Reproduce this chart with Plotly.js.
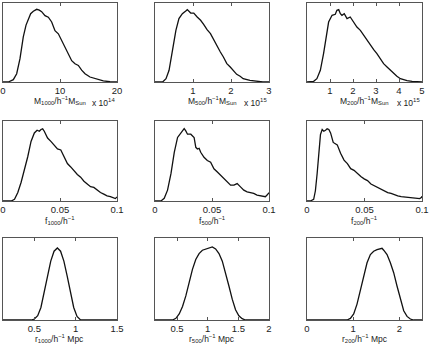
<!DOCTYPE html>
<html>
<head>
<meta charset="utf-8">
<script src="https://cdn.plot.ly/plotly-3.0.1.min.js"></script>
<style>
  html, body { margin: 0; padding: 0; background: #fff; }
  #chart { width: 432px; height: 349px; }
</style>
</head>
<body>
<div id="chart"></div>
<script>
// Normalised distributions (peak height relative to frame)

// Row 1: masses
const m1000X = [0, 0.94, 1.81, 2.40, 2.98, 3.56, 4.04, 4.45, 4.85, 5.32, 5.6, 5.91, 6.37, 6.78, 7.37, 7.95, 8.54, 9.12, 9.71, 10.29, 10.88, 11.46, 12.05, 12.63, 13.22, 13.80, 14.39, 15.26, 16.43, 17.6, 18.77, 19.65, 20];
const m1000Y = [0, 0, 0.03, 0.105, 0.295, 0.57, 0.72, 0.80, 0.865, 0.895, 0.91, 0.92, 0.91, 0.89, 0.84, 0.82, 0.76, 0.65, 0.61, 0.53, 0.44, 0.36, 0.27, 0.23, 0.21, 0.15, 0.105, 0.063, 0.034, 0.013, 0.004, 0, 0];

const m500X = [0, 0.20, 0.29, 0.37, 0.46, 0.55, 0.63, 0.72, 0.81, 0.85, 0.94, 1.02, 1.11, 1.20, 1.28, 1.37, 1.46, 1.54, 1.63, 1.72, 1.80, 1.89, 1.98, 2.06, 2.15, 2.24, 2.32, 2.50, 2.67, 2.84, 3.0];
const m500Y = [0, 0, 0.042, 0.148, 0.401, 0.654, 0.802, 0.865, 0.899, 0.916, 0.873, 0.873, 0.823, 0.781, 0.730, 0.662, 0.612, 0.536, 0.464, 0.380, 0.316, 0.232, 0.190, 0.148, 0.097, 0.072, 0.042, 0.021, 0.008, 0, 0];

const m200X = [0, 0.07, 0.29, 0.43, 0.58, 0.72, 0.84, 0.94, 1.09, 1.23, 1.30, 1.38, 1.45, 1.52, 1.62, 1.74, 1.88, 2.03, 2.17, 2.32, 2.46, 2.61, 2.75, 2.90, 3.04, 3.19, 3.33, 3.48, 3.62, 3.77, 3.91, 4.06, 4.20, 4.35, 4.57, 4.78, 5.0];
const m200Y = [0, 0, 0.008, 0.042, 0.148, 0.359, 0.612, 0.759, 0.844, 0.857, 0.907, 0.916, 0.865, 0.844, 0.865, 0.802, 0.823, 0.759, 0.696, 0.654, 0.591, 0.527, 0.464, 0.409, 0.359, 0.295, 0.232, 0.190, 0.148, 0.105, 0.072, 0.042, 0.030, 0.017, 0.008, 0.004, 0];

// Row 2: f parameters
const f1000X = [0, 0.0072, 0.0101, 0.0130, 0.0159, 0.0188, 0.0217, 0.0246, 0.0275, 0.0299, 0.0319, 0.0333, 0.0348, 0.0362, 0.0391, 0.0420, 0.0449, 0.0478, 0.0507, 0.0536, 0.0565, 0.0594, 0.0623, 0.0652, 0.0681, 0.0710, 0.0739, 0.0768, 0.0797, 0.0826, 0.0855, 0.0884, 0.0913, 0.0942, 0.0971, 0.0986, 0.1];
const f1000Y = [0, 0, 0.021, 0.106, 0.234, 0.383, 0.553, 0.745, 0.851, 0.885, 0.872, 0.894, 0.902, 0.872, 0.787, 0.745, 0.702, 0.651, 0.638, 0.553, 0.468, 0.426, 0.374, 0.332, 0.298, 0.247, 0.213, 0.179, 0.170, 0.136, 0.106, 0.085, 0.064, 0.055, 0.043, 0.030, 0.051];

const f500X = [0, 0.0052, 0.0081, 0.0110, 0.0140, 0.0169, 0.0198, 0.0221, 0.0241, 0.0256, 0.0270, 0.0285, 0.0314, 0.0343, 0.0358, 0.0372, 0.0387, 0.0401, 0.0430, 0.0459, 0.0488, 0.0517, 0.0547, 0.0576, 0.0605, 0.0634, 0.0663, 0.0692, 0.0721, 0.0750, 0.0779, 0.0808, 0.0837, 0.0866, 0.0895, 0.0924, 0.0968, 0.0983, 0.1];
const f500Y = [0, 0, 0.033, 0.136, 0.342, 0.609, 0.794, 0.835, 0.877, 0.905, 0.877, 0.835, 0.835, 0.794, 0.671, 0.650, 0.658, 0.609, 0.547, 0.506, 0.486, 0.403, 0.362, 0.321, 0.280, 0.239, 0.198, 0.198, 0.218, 0.177, 0.136, 0.115, 0.107, 0.095, 0.074, 0.062, 0.053, 0.074, 0.103];

const f200X = [0, 0.0029, 0.0058, 0.0073, 0.0088, 0.0102, 0.0117, 0.0132, 0.0146, 0.0161, 0.0175, 0.0190, 0.0205, 0.0228, 0.0263, 0.0292, 0.0322, 0.0351, 0.0380, 0.0409, 0.0439, 0.0468, 0.0497, 0.0526, 0.0556, 0.0585, 0.0614, 0.0643, 0.0673, 0.0702, 0.0731, 0.0760, 0.0789, 0.0819, 0.0848, 0.0877, 0.0906, 0.0936, 0.0980, 0.0994, 0.1];
const f200Y = [0, 0, 0.021, 0.128, 0.340, 0.596, 0.830, 0.894, 0.872, 0.885, 0.902, 0.894, 0.851, 0.732, 0.702, 0.596, 0.511, 0.468, 0.404, 0.383, 0.340, 0.306, 0.277, 0.255, 0.213, 0.191, 0.170, 0.149, 0.128, 0.106, 0.094, 0.077, 0.064, 0.055, 0.051, 0.043, 0.038, 0.034, 0.030, 0.043, 0.060];

// Row 3: radii
const r1000X = [0.12, 0.46, 0.50, 0.54, 0.579, 0.619, 0.659, 0.698, 0.738, 0.778, 0.817, 0.857, 0.897, 0.937, 0.976, 1.016, 1.056, 1.095, 1.5];
const r1000Y = [0, 0, 0.012, 0.052, 0.153, 0.335, 0.536, 0.718, 0.839, 0.879, 0.839, 0.718, 0.536, 0.335, 0.153, 0.044, 0.004, 0, 0];

const r500X = [0.14, 0.427, 0.481, 0.535, 0.589, 0.643, 0.697, 0.751, 0.805, 0.859, 0.913, 0.967, 1.021, 1.075, 1.129, 1.184, 1.238, 1.292, 1.346, 1.400, 1.454, 1.508, 1.562, 1.616, 2];
const r500Y = [0, 0, 0.020, 0.073, 0.165, 0.294, 0.456, 0.617, 0.738, 0.810, 0.851, 0.867, 0.883, 0.891, 0.867, 0.810, 0.718, 0.577, 0.415, 0.254, 0.125, 0.052, 0.016, 0, 0];

const r200X = [0, 0.866, 0.939, 1.011, 1.083, 1.155, 1.227, 1.300, 1.372, 1.444, 1.516, 1.588, 1.625, 1.661, 1.733, 1.805, 1.877, 1.949, 2.022, 2.094, 2.166, 2.238, 2.310, 2.49];
const r200Y = [0, 0, 0.020, 0.073, 0.194, 0.355, 0.536, 0.698, 0.798, 0.839, 0.859, 0.867, 0.875, 0.851, 0.798, 0.698, 0.577, 0.415, 0.254, 0.113, 0.044, 0.012, 0, 0];

// Axis ranges, ticks and labels
const xRanges = [[0, 20], [0, 3], [0, 5], [0, 0.1], [0, 0.1], [0, 0.1], [0.12, 1.5], [0.14, 2], [0, 2.49]];
const xTicks = [
    [0, 10, 20], [1, 2, 3], [1, 2, 3, 4, 5],
    [0, 0.05, 0.1], [0, 0.05, 0.1], [0, 0.05, 0.1],
    [0.5, 1, 1.5], [0.5, 1, 1.5, 2], [0, 1, 2]
];
const xLabels = [
    'M<sub>1000</sub>/h<sup>\u22121</sup>M<sub>Sun</sub>',
    'M<sub>500</sub>/h<sup>\u22121</sup>M<sub>Sun</sub>',
    'M<sub>200</sub>/h<sup>\u22121</sup>M<sub>Sun</sub>',
    'f<sub>1000</sub>/h<sup>\u22121</sup>',
    'f<sub>500</sub>/h<sup>\u22121</sup>',
    'f<sub>200</sub>/h<sup>\u22121</sup>',
    'r<sub>1000</sub>/h<sup>\u22121</sup> Mpc',
    'r<sub>500</sub>/h<sup>\u22121</sup> Mpc',
    'r<sub>200</sub>/h<sup>\u22121</sup> Mpc'
];
const xExponents = ['x 10<sup>14</sup>', 'x 10<sup>15</sup>', 'x 10<sup>15</sup>', '', '', '', '', '', ''];

const seriesX = [m1000X, m500X, m200X, f1000X, f500X, f200X, r1000X, r500X, r200X];
const seriesY = [m1000Y, m500Y, m200Y, f1000Y, f500Y, f200Y, r1000Y, r500Y, r200Y];

// Panel geometry in pixels
const W = 432, H = 349;
const colPx = [[3, 117], [155, 269], [307, 422]];
const rowPx = [[3, 82], [121, 201], [238, 320]];
const labelYPx = [101, 220, 338];
const FONT = '"Liberation Sans", Arial, Helvetica, sans-serif';

const data = [];
const layout = {
    width: W,
    height: H,
    margin: { l: 0, r: 0, t: 0, b: 0 },
    paper_bgcolor: '#fff',
    plot_bgcolor: '#fff',
    showlegend: false,
    font: { family: FONT, size: 9.5, color: '#222' },
    annotations: []
};

for (let i = 0; i < 9; i++) {
    const row = Math.floor(i / 3), col = i % 3;
    const n = i === 0 ? '' : String(i + 1);
    const xd = [colPx[col][0] / W, colPx[col][1] / W];
    const yd = [1 - rowPx[row][1] / H, 1 - rowPx[row][0] / H];

    data.push({
        x: seriesX[i],
        y: seriesY[i],
        type: 'scatter',
        mode: 'lines',
        line: { color: '#111', width: 1.3 },
        xaxis: 'x' + n,
        yaxis: 'y' + n,
        hoverinfo: 'skip'
    });

    layout['xaxis' + n] = {
        domain: xd,
        anchor: 'y' + n,
        range: xRanges[i],
        tickvals: xTicks[i],
        ticktext: xTicks[i].map(String),
        ticks: 'inside',
        ticklen: 3,
        tickcolor: '#555',
        mirror: 'ticks',
        showline: true,
        linecolor: '#555',
        linewidth: 1,
        showgrid: false,
        zeroline: false,
        tickfont: { family: FONT, size: 9.5, color: '#222' },
        fixedrange: true
    };
    layout['yaxis' + n] = {
        domain: yd,
        anchor: 'x' + n,
        range: [0, 1],
        showticklabels: false,
        ticks: '',
        mirror: true,
        showline: true,
        linecolor: '#555',
        linewidth: 1,
        showgrid: false,
        zeroline: false,
        fixedrange: true
    };

    layout.annotations.push({
        xref: 'paper', yref: 'paper',
        x: (xd[0] + xd[1]) / 2,
        y: 1 - labelYPx[row] / H,
        xanchor: 'center', yanchor: 'middle',
        text: xLabels[i],
        showarrow: false,
        font: { family: FONT, size: 8.5, color: '#222' }
    });
    if (xExponents[i]) {
        layout.annotations.push({
            xref: 'paper', yref: 'paper',
            x: xd[1],
            y: 1 - (labelYPx[row] + 1) / H,
            xanchor: 'right', yanchor: 'middle',
            text: xExponents[i],
            showarrow: false,
            font: { family: FONT, size: 8.5, color: '#222' }
        });
    }
}

Plotly.newPlot('chart', data, layout, { staticPlot: true, displayModeBar: false });
</script>
</body>
</html>
